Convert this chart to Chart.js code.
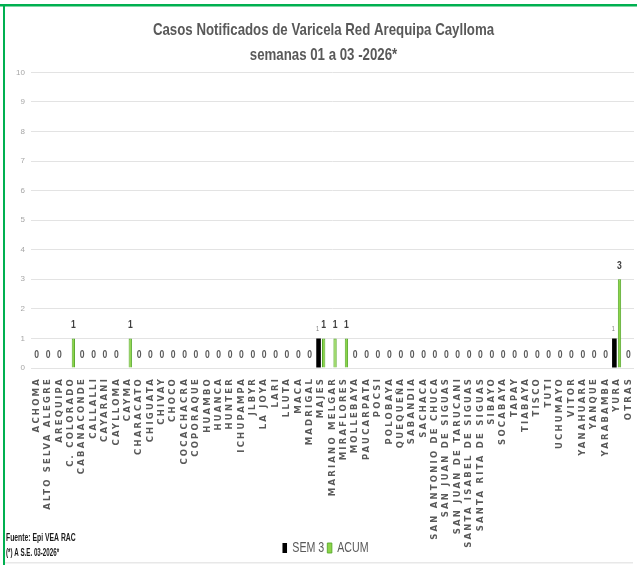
<!DOCTYPE html>
<html>
<head>
<meta charset="utf-8">
<title>Varicela Red Arequipa Caylloma</title>
<script src="https://cdn.jsdelivr.net/npm/chart.js@4.4.1/dist/chart.umd.min.js"></script>
<style>
    html, body { margin: 0; padding: 0; background: #ffffff; }
    #wrap { width: 637px; height: 565px; }
</style>
</head>
<body>
<div id="wrap"><canvas id="varicelaChart" width="637" height="565"></canvas></div>
<script>
//------------------------------------------------------
// CASOS DE VARICELA POR DISTRITO - SE 01 a 03
//------------------------------------------------------

const distritos = [
    "ACHOMA", "ALTO SELVA ALEGRE", "AREQUIPA", "C. COLORADO", "CABANACONDE",
    "CALLALLI", "CAYARANI", "CAYLLOMA", "CAYMA", "CHARACATO", "CHIGUATA",
    "CHIVAY", "CHOCO", "COCACHACRA", "COPORAQUE", "HUAMBO", "HUANCA",
    "HUNTER", "ICHUPAMPA", "JLBYR", "LA JOYA", "LARI", "LLUTA", "MACA",
    "MADRIGAL", "MAJES", "MARIANO MELGAR", "MIRAFLORES", "MOLLEBAYA",
    "PAUCARPATA", "POCSI", "POLOBAYA", "QUEQUEÑA", "SABANDIA", "SACHACA",
    "SAN ANTONIO DE CHUCA", "SAN JUAN DE SIGUAS", "SAN JUAN DE TARUCANI",
    "SANTA ISABEL DE SIGUAS", "SANTA RITA DE SIGUAS", "SIBAYO", "SOCABAYA",
    "TAPAY", "TIABAYA", "TISCO", "TUTI", "UCHUMAYO", "VITOR", "YANAHUARA",
    "YANQUE", "YARABAMBA", "YURA", "OTRAS"
];

// semana 3
const sem3 = [
    0, 0, 0, 0, 0, 0, 0, 0, 0, 0, 0, 0, 0, 0, 0, 0, 0, 0, 0, 0, 0, 0, 0, 0, 0,
    1, 0, 0, 0, 0, 0, 0, 0, 0, 0, 0, 0, 0, 0, 0, 0, 0, 0, 0, 0, 0, 0, 0, 0, 0,
    0, 1, 0
];

// acumulado semanas 01 a 03
const acum = [
    0, 0, 0, 1, 0, 0, 0, 0, 1, 0, 0, 0, 0, 0, 0, 0, 0, 0, 0, 0, 0, 0, 0, 0, 0,
    1, 1, 1, 0, 0, 0, 0, 0, 0, 0, 0, 0, 0, 0, 0, 0, 0, 0, 0, 0, 0, 0, 0, 0, 0,
    0, 3, 0
];

const yMax = 10;
const yStep = 1;

const SANS = '"Liberation Sans", Arial, sans-serif';
const PLOT_BOTTOM = 368;

// texto angosto: se comprime en horizontal alrededor de x
function textoAngosto(ctx, texto, x, y, k){
    ctx.save();
    ctx.translate(x, y);
    ctx.scale(k, 1);
    ctx.fillText(texto, 0, 0);
    ctx.restore();
}

//------------------------------------------------------
// FONDO Y MARCO
//------------------------------------------------------

const marco = {
    id: "marco",
    beforeDraw(chart){
        const ctx = chart.ctx;
        ctx.save();
        ctx.fillStyle = "#ffffff";
        ctx.fillRect(0, 0, chart.width, chart.height);
        ctx.fillStyle = "#00B050";
        ctx.fillRect(0, 4, chart.width, 2.5);
        ctx.fillRect(3, 4, 2, chart.height - 4);
        ctx.fillStyle = "#e8e8e8";
        ctx.fillRect(5, 562, chart.width - 9, 1.5);
        ctx.restore();
    }
};

//------------------------------------------------------
// ETIQUETAS DE VALOR SOBRE LAS BARRAS
//------------------------------------------------------

const etiquetas = {
    id: "etiquetas",
    afterDatasetsDraw(chart){
        const ctx = chart.ctx;
        const xs = chart.scales.x;
        ctx.save();
        ctx.textAlign = "center";
        ctx.textBaseline = "bottom";
        chart.data.datasets.forEach(function(ds, i){
            const meta = chart.getDatasetMeta(i);
            if(meta.hidden) return;
            meta.data.forEach(function(bar, j){
                const v = ds.data[j];
                if(ds.label === "SEM 3"){
                    if(!v) return;
                    ctx.font = "7px " + SANS;
                    ctx.fillStyle = "#7f7f7f";
                    textoAngosto(ctx, String(v), bar.x - 1, bar.y - 6, 0.8);
                }else if(v){
                    ctx.font = "bold 11px " + SANS;
                    ctx.fillStyle = "#404040";
                    textoAngosto(ctx, String(v), bar.x, bar.y - 8, 0.78);
                }else{
                    ctx.font = "bold 11px " + SANS;
                    ctx.fillStyle = "#595959";
                    textoAngosto(ctx, "0", xs.getPixelForValue(j), bar.y - 8, 0.78);
                }
            });
        });
        ctx.restore();
    }
};

//------------------------------------------------------
// NOTA DE FUENTE
//------------------------------------------------------

const fuente = {
    id: "fuente",
    afterDraw(chart){
        const ctx = chart.ctx;
        ctx.save();
        ctx.fillStyle = "#1a1a1a";
        ctx.textAlign = "left";
        ctx.textBaseline = "middle";
        ctx.font = "bold 11px " + SANS;
        textoAngosto(ctx, "Fuente: Epi VEA RAC", 6, 538, 0.62);
        ctx.font = "bold 10px " + SANS;
        textoAngosto(ctx, "(*) A S.E. 03-2026*", 6, 553, 0.62);
        ctx.restore();
    }
};

//------------------------------------------------------
// AJUSTES DE DIBUJO: TITULO Y LEYENDA ANGOSTOS,
// LETRAS ESPACIADAS EN LOS DISTRITOS
//------------------------------------------------------

function comprimirCaja(caja, k, desde, hacia){
    const original = caja.draw;
    caja.draw = function(){
        const c = this.ctx;
        c.save();
        c.translate(hacia, 0);
        c.scale(k, 1);
        c.translate(-desde, 0);
        original.apply(this, arguments);
        c.restore();
    };
}

const ajustes = {
    id: "ajustes",
    afterUpdate(chart){
        if(chart._ajustado) return;
        const centro = chart.width / 2 + 1.5;

        comprimirCaja(chart.titleBlock, 0.78, centro, 323.5);
        comprimirCaja(chart.legend, 0.76, centro, 325.5);

        // los nombres largos bajan hasta la zona de la leyenda: sin recorte
        const xs = chart.scales.x;
        const drawLabels = xs.drawLabels;
        xs._computeLabelArea = function(){ return undefined; };
        xs.drawLabels = function(area){
            this.ctx.save();
            this.ctx.letterSpacing = "2.2px";
            drawLabels.call(this, area);
            this.ctx.restore();
        };
        chart._ajustado = true;
    }
};

//======================================================
// GRAFICO
//======================================================

const ctx = document.getElementById("varicelaChart").getContext("2d");

const varicelaChart = new Chart(ctx, {

    type: "bar",

    data: {
        labels: distritos,
        datasets: [
            {
                label: "SEM 3",
                data: sem3,
                backgroundColor: "#000000",
                borderWidth: 0,
                barPercentage: 0.9,
                categoryPercentage: 0.9
            },
            {
                label: "ACUM",
                data: acum,
                backgroundColor: "#8CD448",
                borderColor: "#55A82A",
                borderWidth: 1,
                barPercentage: 0.65,
                categoryPercentage: 0.9
            }
        ]
    },

    options: {
        responsive: false,
        animation: false,
        devicePixelRatio: 1,

        layout: {
            padding: { top: 2, right: 3, bottom: 0, left: 6 }
        },

        plugins: {
            title: {
                display: true,
                text: [
                    "Casos Notificados de Varicela Red Arequipa Caylloma",
                    "semanas 01 a 03 -2026*"
                ],
                color: "#595959",
                font: { family: SANS, size: 17, weight: "bold", lineHeight: 1.45 },
                padding: { top: 16, bottom: 5 }
            },
            legend: {
                position: "bottom",
                labels: {
                    boxWidth: 6,
                    boxHeight: 10,
                    padding: 4,
                    color: "#595959",
                    font: { family: SANS, size: 14 }
                }
            },
            tooltip: { enabled: false }
        },

        scales: {
            x: {
                grid: { display: false, drawTicks: false },
                border: { display: false },
                ticks: {
                    autoSkip: false,
                    minRotation: 90,
                    maxRotation: 90,
                    padding: 9,
                    color: "#595959",
                    font: { family: '"DejaVu Sans"', size: 8.5, weight: "bold" }
                },
                afterFit(scale){
                    const leyenda = scale.chart.legend ? scale.chart.legend.height : 0;
                    scale.height = 565 - leyenda - PLOT_BOTTOM;
                    scale.paddingLeft = 0;
                    scale.paddingRight = 0;
                }
            },
            y: {
                min: 0,
                max: yMax,
                ticks: {
                    stepSize: yStep,
                    padding: 6,
                    color: "#a6a6a6",
                    font: { family: SANS, size: 8 }
                },
                grid: { color: "#e3e3e3", drawTicks: false },
                border: { display: false },
                afterFit(scale){
                    scale.width = 25;
                }
            }
        }
    },

    plugins: [marco, etiquetas, fuente, ajustes]

});
</script>
</body>
</html>
